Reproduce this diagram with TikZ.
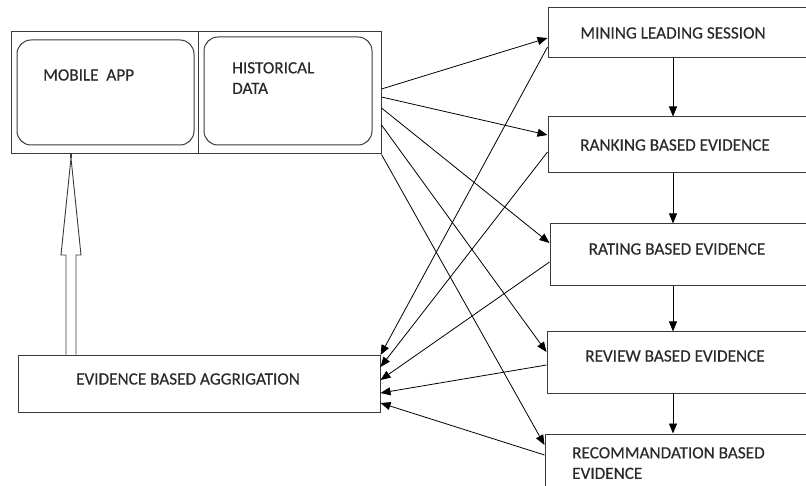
\documentclass[tikz,border=0pt]{standalone}
\usepackage{fontspec}
\setmainfont{Carlito}
\newfontfamily\lblfont{Carlito}[FakeBold=0.35]
\usetikzlibrary{arrows.meta,calc}
\definecolor{txt}{HTML}{2A2A2A}
\definecolor{edge}{HTML}{3A3A3A}
\begin{document}
\begin{tikzpicture}[x=1pt,y=-1pt,
  box/.style={draw=edge,line width=1pt,inner sep=0pt},
  rbox/.style={draw=edge,line width=1pt,rounded corners=14pt,inner sep=0pt},
  lbl/.style={font=\lblfont\fontsize{17.2}{20.5}\selectfont,text=txt,inner sep=0pt},
  con/.style={line width=0.8pt,-{Triangle[length=10pt,width=8pt]}}]
\useasboundingbox (0,0) rectangle (806,486);
% top container
\node[box,minimum width=370pt,minimum height=122pt] (outer) at (196,93) {};
\draw[edge,line width=1pt] (198,32) -- (198,154);
\node[rbox,minimum width=177pt,minimum height=105pt] (mob) at (105.5,92.5) {};
\node[rbox,minimum width=168pt,minimum height=108pt] (hist) at (288,91) {};
\node[lbl,anchor=west] (mobt) at (43,75) {MOBILE\ \ APP};
\node[lbl,anchor=north west,align=left] (histt) at (232,62) {HISTORICAL\\DATA};
% aggregation
\node[box,minimum width=362pt,minimum height=57pt] (agg) at (199,383.5) {};
\node[lbl] (aggt) at (188,379) {EVIDENCE BASED AGGRIGATION};
% right column
\node[box,minimum width=262pt,minimum height=50pt] (mining) at (679,33) {};
\node[lbl] (miningt) at (673,33) {MINING LEADING SESSION};
\node[box,minimum width=262pt,minimum height=56pt] (rank) at (679,145) {};
\node[lbl] (rankt) at (675,145) {RANKING BASED EVIDENCE};
\node[box,minimum width=260pt,minimum height=62pt] (rate) at (680,255) {};
\node[lbl] (ratet) at (677,249) {RATING BASED EVIDENCE};
\node[box,minimum width=263pt,minimum height=61pt] (rev) at (678.5,362.5) {};
\node[lbl] (revt) at (675,356) {REVIEW BASED EVIDENCE};
\node[box,minimum width=265pt,minimum height=70pt] (rec) at (677.5,469) {};
\node[lbl,anchor=north west,align=left] (rect) at (572,447) {RECOMMANDATION BASED\\EVIDENCE};
% vertical chain
\draw[con] (mining.south -| 673,0) -- (rank.north -| 673,0);
\draw[con] (rank.south -| 673,0) -- (rate.north -| 673,0);
\draw[con] (rate.south -| 673,0) -- (rev.north -| 673,0);
\draw[con] (rev.south -| 673,0) -- (rec.north -| 673,0);
% fan-out from historical data
\draw[con] (outer.east |- 0,89) -- (mining.west |- 0,38);
\draw[con] (outer.east |- 0,97) -- (rank.west |- 0,135);
\draw[con] (outer.east |- 0,108) -- (rate.west |- 0,243);
\draw[con] (outer.east |- 0,125) -- (rev.west |- 0,352);
\draw[con] (outer.south east) -- (rec.west |- 0,445);
% fan-in to aggregation
\draw[con] (mining.west |- 0,47) -- (agg.east |- 0,355);
\draw[con] (rank.west |- 0,152) -- (agg.east |- 0,367);
\draw[con] (rate.west |- 0,262) -- (agg.east |- 0,380);
\draw[con] (rev.west |- 0,365) -- (agg.east |- 0,393);
\draw[con] (rec.west |- 0,455) -- (agg.east |- 0,403);
% hollow upward arrow
\coordinate (tip) at (71,158);
\draw[edge,line width=0.9pt,fill=white] (agg.north -| 66,0) -- (66,255) -- (61,255) -- (tip) -- (81,255) -- (76,255) -- (agg.north -| 76,0);
\draw[edge,line width=1.5pt] (tip) -- (outer.south -| tip);
\end{tikzpicture}
\end{document}
